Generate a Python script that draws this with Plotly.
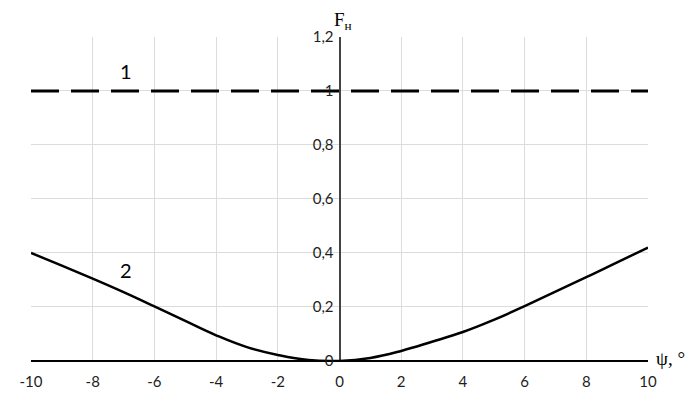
import plotly.graph_objects as go

# curve 2
psi = [-10, -9, -8, -7, -6, -5, -4, -3, -2, -1, 0, 1, 2, 3, 4, 5, 6, 7, 8, 9, 10]
f_curve2 = [0.40, 0.353, 0.305, 0.255, 0.202, 0.148, 0.095, 0.051, 0.022, 0.003, 0.0,
            0.011, 0.037, 0.071, 0.107, 0.152, 0.203, 0.257, 0.31, 0.365, 0.42]

# curve 1: constant level
psi_line1 = [-10, 10]
f_curve1 = [1.0, 1.0]

x_ticks = [-10, -8, -6, -4, -2, 0, 2, 4, 6, 8, 10]
x_ticktext = ["-10", "-8", "-6", "-4", "-2", "0", "2", "4", "6", "8", "10"]
y_ticks = [0, 0.2, 0.4, 0.6, 0.8, 1.0, 1.2]

tick_font = dict(family="Lato, 'Open Sans', sans-serif", size=15, color="#1e1e1e")
serif = "Liberation Serif, 'DejaVu Serif', serif"

fig = go.Figure()
fig.add_trace(go.Scatter(x=psi_line1, y=f_curve1, mode="lines",
                         line=dict(color="black", width=3, dash="28px,12px"),
                         showlegend=False))
fig.add_trace(go.Scatter(x=psi, y=f_curve2, mode="lines", line_shape="spline",
                         line=dict(color="black", width=2.5, smoothing=1.2),
                         showlegend=False))

# the page body adds an 8px offset, so the figure is 8px smaller than the window
fig.update_layout(
    width=688, height=394,
    margin=dict(l=21, r=48, t=29, b=38),
    plot_bgcolor="white", paper_bgcolor="white",
    separators=", ",
    font=tick_font,
    annotations=[
        dict(x=-6.93, y=1.075, text="1", showarrow=False, font=dict(size=20, color="black")),
        dict(x=-6.93, y=0.338, text="2", showarrow=False, font=dict(size=20, color="black")),
        dict(x=1, y=0, xref="paper", yref="y", text="ψ, °", showarrow=False,
             xanchor="left", yanchor="middle", xshift=6, yshift=2,
             font=dict(family=serif, size=19, color="black")),
        dict(x=0, y=1, xref="x", yref="paper", text="F<sub>н</sub>", showarrow=False,
             xanchor="left", yanchor="bottom", xshift=-8, yshift=2,
             font=dict(family=serif, size=19, color="black")),
    ],
)

fig.update_xaxes(range=[-10, 10], tickvals=x_ticks, ticktext=x_ticktext,
                 showgrid=True, gridcolor="#dcdcdc",
                 gridwidth=1, zeroline=True, zerolinecolor="#444", zerolinewidth=2,
                 showline=False, ticks="outside", ticklen=6, tickcolor="rgba(0,0,0,0)",
                 tickfont=tick_font)
fig.update_yaxes(range=[-0.004, 1.2], tickvals=y_ticks, showgrid=True, gridcolor="#dcdcdc",
                 gridwidth=1, zeroline=True, zerolinecolor="black", zerolinewidth=2,
                 anchor="free", position=0.5, showline=False,
                 ticks="outside", ticklen=3, tickcolor="rgba(0,0,0,0)", tickfont=tick_font)

fig.write_html("out.html")
